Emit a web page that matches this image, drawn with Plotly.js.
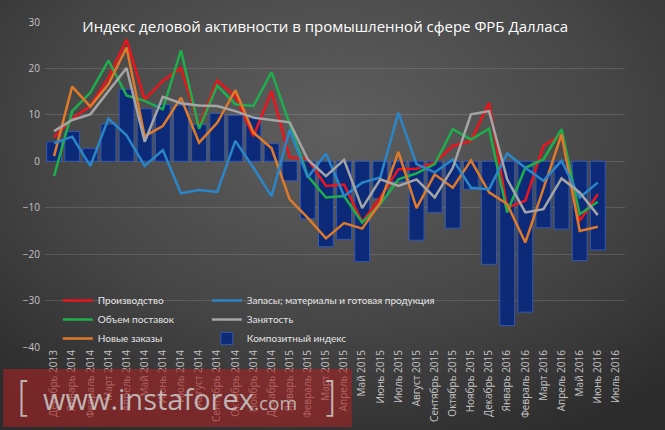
<!DOCTYPE html>
<html>
<head>
<meta charset="utf-8">
<script src="https://cdn.plot.ly/plotly-3.0.1.min.js"></script>
<style>
  html, body { margin: 0; padding: 0; }
  #chart {
    width: 665px; height: 430px;
    background: radial-gradient(ellipse 75% 80% at 50% 30%, #5f5f5f 0%, #474747 55%, #2c2c2c 100%);
  }
</style>
</head>
<body>
<div id="chart"></div>
<script>
// months shown on the axis (last one has no data)
var months = ['Декабрь 2013', 'Январь 2014', 'Февраль 2014', 'Март 2014', 'Апрель 2014', 'Май 2014',
  'Июнь 2014', 'Июль 2014', 'Август 2014', 'Сентябрь 2014', 'Октябрь 2014', 'Ноябрь 2014',
  'Декабрь 2014', 'Январь 2015', 'Февраль 2015', 'Март 2015', 'Апрель 2015', 'Май 2015',
  'Июнь 2015', 'Июль 2015', 'Август 2015', 'Сентябрь 2015', 'Октябрь 2015', 'Ноябрь 2015',
  'Декабрь 2015', 'Январь 2016', 'Февраль 2016', 'Март 2016', 'Апрель 2016', 'Май 2016',
  'Июнь 2016', 'Июль 2016'];

// values
var composite = [4.2, 6.4, 2.8, 8.0, 15.5, 11.3, 12.2, 12.1, 7.9, 10.3, 9.9, 9.6, 3.8, -4.2,
  -12.4, -18.4, -16.8, -21.6, -8.0, -4.4, -17.0, -11.0, -14.4, -6.0, -22.2, -35.4, -32.5,
  -14.3, -14.6, -21.4, -19.1];
var production = [5.2, 9.2, 11.9, 18.0, 26.2, 13.3, 17.3, 20.1, 7.5, 17.4, 14.0, 5.4, 15.1, 0.8,
  0.5, -5.3, -5.0, -13.1, -7.8, -1.7, -1.6, -0.3, 3.3, 4.4, 12.6, -10.0, -8.5, 3.3, 5.8, -12.8, -7.1];
var shipments = [-3.2, 10.8, 14.8, 21.7, 14.2, 13.0, 11.2, 23.9, 7.0, 16.3, 12.3, 11.9, 19.2, 8.0,
  -3.2, -7.8, -7.5, -13.2, -9.2, -3.9, -2.6, -0.6, 6.9, 4.7, 7.0, -11.0, -1.4, 0.4, 6.9, -11.4, -8.7];
var newOrders = [1.1, 16.1, 11.8, 16.6, 24.5, 5.4, 7.6, 13.7, 4.0, 8.3, 15.3, 6.2, 2.8, -8.2,
  -12.2, -16.6, -13.3, -14.5, -8.9, 2.0, -10.1, -2.8, -5.7, 0.2, -6.7, -9.2, -17.5, -6.0, 5.8, -15.0, -14.1];
var inventories = [3.9, 5.3, -1.0, 9.2, 5.6, -1.0, 2.4, -6.9, -6.2, -6.6, 4.4, -1.4, -7.5, 6.8,
  -3.5, 1.7, -7.5, -4.6, -3.5, 10.5, -0.6, -2.4, 0.4, -5.7, -6.0, 1.7, -1.4, -4.2, 0.1, -7.8, -4.6];
var employment = [6.5, 8.9, 10.1, 15.1, 20.1, 4.2, 13.9, 12.5, 12.0, 11.9, 10.8, 9.4, 8.9, 8.4,
  0.4, -3.2, 0.3, -10.1, -3.9, -5.3, -3.9, -7.8, -1.4, 10.1, 10.8, -3.9, -11.0, -10.3, -3.7, -6.7, -11.6];

var xs = months.slice(0, composite.length);

function line(name, values, color, legend, rank) {
  return {
    type: 'scatter', mode: 'lines', name: name, x: xs, y: values,
    line: {color: color, width: 2.5},
    legend: legend, legendrank: rank, hoverinfo: 'x+y+name'
  };
}

var data = [
  {
    type: 'bar', name: 'Композитный индекс', x: xs, y: composite,
    marker: {color: '#0c2a78', line: {color: '#3358b0', width: 1}},
    legend: 'legend2', legendrank: 3
  },
  line('Производство', production, '#e8161c', 'legend', 1),
  line('Объем поставок', shipments, '#1fae4c', 'legend', 2),
  line('Новые заказы', newOrders, '#de7a2a', 'legend', 3),
  line('Запасы; материалы и готовая продукция', inventories, '#2b86c9', 'legend2', 1),
  line('Занятость', employment, '#a5a5a5', 'legend2', 2)
];

var tickFont = {family: 'Open Sans, sans-serif', size: 10, color: '#c4c4c4'};
var legendFont = {family: 'Lato, sans-serif', size: 10, color: '#e6e6e6'};
var markColor = 'rgba(205,205,205,0.85)';

var layout = {
  width: 665, height: 430,
  margin: {l: 45, r: 40, t: 22, b: 83},
  paper_bgcolor: 'rgba(0,0,0,0)',
  plot_bgcolor: 'rgba(0,0,0,0)',
  bargap: 0.18,
  title: {
    text: 'Индекс деловой активности в промышленной сфере ФРБ Далласа',
    font: {family: 'Open Sans, sans-serif', size: 15, color: '#ffffff'},
    x: 0.489, xanchor: 'center', y: 0.937, yanchor: 'middle'
  },
  xaxis: {
    type: 'category', categoryorder: 'array', categoryarray: months,
    range: [-0.5, months.length - 0.5],
    tickangle: -90, tickfont: tickFont, showgrid: false, zeroline: false,
    showline: false, ticks: ''
  },
  yaxis: {
    range: [-40, 30], dtick: 10, tickfont: tickFont,
    gridcolor: 'rgba(255,255,255,0.13)', gridwidth: 1, zeroline: false, showline: false,
    ticklabelstandoff: 4
  },
  yaxis2: {
    overlaying: 'y', side: 'right', range: [-40, 30], dtick: 10, tickfont: tickFont,
    showgrid: false, zeroline: false, showline: false, ticklabelstandoff: 4
  },
  legend: {
    x: 0.022, y: 0.188, xanchor: 'left', yanchor: 'top',
    bgcolor: 'rgba(0,0,0,0)', font: legendFont, tracegroupgap: 0, itemwidth: 30
  },
  legend2: {
    x: 0.279, y: 0.188, xanchor: 'left', yanchor: 'top',
    bgcolor: 'rgba(0,0,0,0)', font: legendFont, tracegroupgap: 0, itemwidth: 30
  },
  shapes: [{
    type: 'rect', xref: 'paper', yref: 'paper', layer: 'above',
    x0: -0.072, x1: 0.529, y0: -0.246, y1: -0.068,
    fillcolor: 'rgba(165,35,35,0.62)', line: {width: 0}
  }],
  annotations: [
    {
      xref: 'paper', yref: 'paper', x: -0.036, y: -0.155, xanchor: 'center', yanchor: 'middle',
      showarrow: false, text: '[',
      font: {family: 'DejaVu Sans, sans-serif', size: 40, color: markColor, weight: 200}
    },
    {
      xref: 'paper', yref: 'paper', x: 0.216, y: -0.157, xanchor: 'center', yanchor: 'middle',
      showarrow: false,
      text: 'www.instaforex<span style="font-size:19px">.com</span>',
      font: {family: 'Open Sans, sans-serif', size: 29, color: markColor}
    },
    {
      xref: 'paper', yref: 'paper', x: 0.491, y: -0.155, xanchor: 'center', yanchor: 'middle',
      showarrow: false, text: ']',
      font: {family: 'DejaVu Sans, sans-serif', size: 40, color: markColor, weight: 200}
    }
  ]
};

Plotly.newPlot('chart', data, layout, {displayModeBar: false});
</script>
</body>
</html>
